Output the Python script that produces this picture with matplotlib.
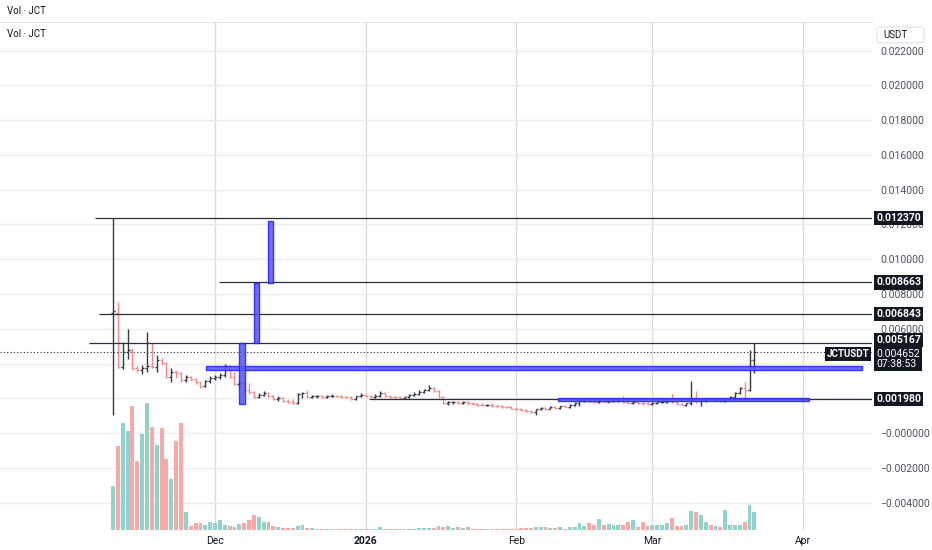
import numpy as np
import pandas as pd
import matplotlib
matplotlib.use('Agg')
import matplotlib.pyplot as plt
import matplotlib.dates as mdates
import matplotlib.transforms as mtransforms
from matplotlib.patches import Rectangle, FancyBboxPatch
from matplotlib.ticker import FuncFormatter

plt.rcParams['font.family'] = ['Roboto', 'DejaVu Sans']

# daily bars JCT/USDT
dates = pd.date_range('2025-11-10', periods=133, freq='D')
opens = [0.00691, 0.00691, 0.00380, 0.00465, 0.00478, 0.00374, 0.00363, 0.00374, 0.00386, 0.00380,
         0.00420, 0.00403, 0.00322, 0.00351, 0.00345, 0.00305, 0.00322, 0.00311, 0.00294, 0.00270,
         0.00299, 0.00317, 0.00322, 0.00334, 0.00386, 0.00322, 0.00282, 0.00288, 0.00247, 0.00236,
         0.00207, 0.00219, 0.00230, 0.00213, 0.00196, 0.00201, 0.00184, 0.00178, 0.00173, 0.00224,
         0.00230, 0.00207, 0.00211, 0.00213, 0.00207, 0.00213, 0.00215, 0.00211, 0.00207, 0.00205,
         0.00196, 0.00213, 0.00219, 0.00213, 0.00207, 0.00215, 0.00230, 0.00213, 0.00207, 0.00205,
         0.00201, 0.00207, 0.00219, 0.00224, 0.00236, 0.00247, 0.00259, 0.00242, 0.00207, 0.00173,
         0.00178, 0.00181, 0.00173, 0.00178, 0.00170, 0.00167, 0.00164, 0.00161, 0.00164, 0.00158,
         0.00155, 0.00150, 0.00147, 0.00141, 0.00138, 0.00132, 0.00127, 0.00121, 0.00138, 0.00144,
         0.00141, 0.00150, 0.00144, 0.00155, 0.00150, 0.00161, 0.00170, 0.00184, 0.00187, 0.00181,
         0.00178, 0.00187, 0.00181, 0.00184, 0.00187, 0.00190, 0.00176, 0.00173, 0.00178, 0.00173,
         0.00170, 0.00167, 0.00173, 0.00178, 0.00181, 0.00184, 0.00178, 0.00167, 0.00164, 0.00170,
         0.00190, 0.00184, 0.00190, 0.00196, 0.00190, 0.00193, 0.00184, 0.00193, 0.00207, 0.00230,
         0.00259, 0.00247, 0.00420]
highs = [0.01237, 0.00754, 0.00524, 0.00598, 0.00489, 0.00386, 0.00391, 0.00581, 0.00517, 0.00449,
         0.00432, 0.00409, 0.00374, 0.00363, 0.00351, 0.00334, 0.00328, 0.00317, 0.00299, 0.00305,
         0.00328, 0.00334, 0.00345, 0.00397, 0.00391, 0.00351, 0.00299, 0.00294, 0.00288, 0.00242,
         0.00230, 0.00242, 0.00236, 0.00219, 0.00213, 0.00207, 0.00196, 0.00196, 0.00230, 0.00236,
         0.00247, 0.00219, 0.00219, 0.00219, 0.00219, 0.00224, 0.00219, 0.00216, 0.00213, 0.00211,
         0.00215, 0.00230, 0.00224, 0.00219, 0.00224, 0.00242, 0.00236, 0.00219, 0.00213, 0.00213,
         0.00213, 0.00224, 0.00236, 0.00247, 0.00253, 0.00276, 0.00265, 0.00247, 0.00213, 0.00184,
         0.00184, 0.00184, 0.00184, 0.00184, 0.00178, 0.00173, 0.00170, 0.00167, 0.00170, 0.00164,
         0.00161, 0.00155, 0.00155, 0.00150, 0.00144, 0.00138, 0.00132, 0.00141, 0.00150, 0.00150,
         0.00155, 0.00155, 0.00158, 0.00164, 0.00167, 0.00176, 0.00190, 0.00193, 0.00190, 0.00187,
         0.00193, 0.00190, 0.00190, 0.00193, 0.00196, 0.00213, 0.00184, 0.00184, 0.00184, 0.00178,
         0.00178, 0.00178, 0.00181, 0.00184, 0.00190, 0.00224, 0.00184, 0.00173, 0.00173, 0.00299,
         0.00242, 0.00196, 0.00201, 0.00201, 0.00196, 0.00201, 0.00196, 0.00213, 0.00236, 0.00265,
         0.00294, 0.00478, 0.005167]
lows = [0.00104, 0.00374, 0.00368, 0.00426, 0.00363, 0.00351, 0.00340, 0.00351, 0.00374, 0.00351,
        0.00391, 0.00317, 0.00294, 0.00317, 0.00294, 0.00294, 0.00299, 0.00282, 0.00259, 0.00265,
        0.00288, 0.00305, 0.00311, 0.00322, 0.00317, 0.00276, 0.00265, 0.00236, 0.00224, 0.00201,
        0.00201, 0.00213, 0.00207, 0.00190, 0.00184, 0.00178, 0.00173, 0.00167, 0.00167, 0.00201,
        0.00201, 0.00201, 0.00201, 0.00201, 0.00201, 0.00207, 0.00207, 0.00201, 0.00201, 0.00190,
        0.00190, 0.00207, 0.00207, 0.00201, 0.00201, 0.00207, 0.00207, 0.00201, 0.00199, 0.00199,
        0.00199, 0.00201, 0.00213, 0.00219, 0.00230, 0.00242, 0.00236, 0.00201, 0.00167, 0.00161,
        0.00167, 0.00167, 0.00167, 0.00161, 0.00161, 0.00155, 0.00155, 0.00155, 0.00150, 0.00150,
        0.00144, 0.00144, 0.00138, 0.00132, 0.00127, 0.00121, 0.00115, 0.00104, 0.00132, 0.00132,
        0.00138, 0.00138, 0.00138, 0.00147, 0.00144, 0.00155, 0.00155, 0.00178, 0.00176, 0.00173,
        0.00173, 0.00176, 0.00176, 0.00178, 0.00181, 0.00173, 0.00167, 0.00167, 0.00167, 0.00161,
        0.00161, 0.00161, 0.00167, 0.00170, 0.00173, 0.00173, 0.00161, 0.00161, 0.00155, 0.00161,
        0.00173, 0.00155, 0.00178, 0.00184, 0.00184, 0.00178, 0.00178, 0.00190, 0.00201, 0.00224,
        0.00201, 0.00242, 0.00345]
closes = [0.00702, 0.00380, 0.00465, 0.00478, 0.00374, 0.00363, 0.00374, 0.00386, 0.00380, 0.00420,
          0.00403, 0.00322, 0.00351, 0.00345, 0.00305, 0.00322, 0.00311, 0.00294, 0.00270, 0.00299,
          0.00317, 0.00322, 0.00334, 0.00386, 0.00322, 0.00282, 0.00288, 0.00247, 0.00236, 0.00207,
          0.00219, 0.00230, 0.00213, 0.00196, 0.00201, 0.00184, 0.00178, 0.00173, 0.00224, 0.00230,
          0.00207, 0.00211, 0.00213, 0.00207, 0.00213, 0.00215, 0.00211, 0.00207, 0.00205, 0.00196,
          0.00213, 0.00219, 0.00213, 0.00207, 0.00215, 0.00230, 0.00213, 0.00207, 0.00205, 0.00201,
          0.00207, 0.00219, 0.00224, 0.00236, 0.00247, 0.00259, 0.00242, 0.00207, 0.00173, 0.00178,
          0.00181, 0.00173, 0.00178, 0.00170, 0.00167, 0.00164, 0.00161, 0.00164, 0.00158, 0.00155,
          0.00150, 0.00147, 0.00141, 0.00138, 0.00132, 0.00127, 0.00121, 0.00138, 0.00144, 0.00141,
          0.00150, 0.00144, 0.00155, 0.00150, 0.00161, 0.00170, 0.00184, 0.00187, 0.00181, 0.00178,
          0.00187, 0.00181, 0.00184, 0.00187, 0.00190, 0.00176, 0.00173, 0.00178, 0.00173, 0.00170,
          0.00167, 0.00173, 0.00178, 0.00181, 0.00184, 0.00178, 0.00167, 0.00164, 0.00170, 0.00190,
          0.00184, 0.00190, 0.00196, 0.00190, 0.00193, 0.00184, 0.00193, 0.00207, 0.00230, 0.00259,
          0.00247, 0.00420, 0.004652]
volume = [44, 84, 107, 99, 124, 69, 96, 127, 103, 85,
          102, 71, 51, 89, 107, 18, 4, 7, 7, 5,
          8, 7, 10, 5, 4, 3, 6, 7, 10, 15,
          13, 8, 8, 4, 3, 2, 2, 2, 4, 5,
          2, 2, 1.5, 1.5, 1, 1, 1.5, 1, 1, 1.5,
          1.5, 1, 1, 1.5, 1.5, 3, 1.5, 1, 1, 1,
          1, 1.5, 1.5, 2, 2, 2, 2, 4, 3.5, 4,
          2, 3, 2.5, 3, 1.5, 1, 1, 1, 1, 1,
          1.5, 1.5, 1.5, 1.5, 2, 2, 2.5, 3, 3.5, 3,
          2, 2, 3, 1.5, 3, 3,
          7, 4, 7, 5, 11, 5, 6, 5, 5, 5,
          8, 10, 3, 8, 4, 5, 5, 5, 7, 12,
          4, 4, 5, 19, 18, 15, 8, 5, 4, 3,
          20, 5, 5, 5, 8, 25, 18]

# horizontal levels
level_prices = [0.01237, 0.008663, 0.006843, 0.005167, 0.00198]
level_labels = ['0.012370', '0.008663', '0.006843', '0.005167', '0.001980']
level_starts = ['2025-11-06 07:00', '2025-12-01 22:00', '2025-11-07 02:00',
                '2025-11-05 02:00', '2026-01-01 17:00']

# blue boxes
box_starts = ['2025-11-29 02:00', '2025-12-06', '2025-12-09', '2025-12-12', '2026-02-09 14:00']
box_ends = ['2026-04-13 05:00', '2025-12-07 02:00', '2025-12-10', '2025-12-13', '2026-04-02 06:00']
box_lows = [0.00364, 0.00165, 0.00516, 0.00865, 0.00186]
box_highs = [0.00387, 0.00516, 0.00865, 0.01222, 0.00200]

last_price = 0.004652
last_label = '0.004652'
countdown = '07:38:53'

price_ticks = np.arange(-0.004, 0.0221, 0.002)
hidden_ticks = [0.002, 0.004]
month_ticks = ['2025-12-01', '2026-01-01', '2026-02-01', '2026-03-01', '2026-04-01']
month_labels = ['Dec', '2026', 'Feb', 'Mar', 'Apr']

up_col = '#363a45'
down_col = '#f28b89'
vol_up = '#92d2cc'
vol_down = '#f7a9a7'


def price_fmt(v, pos):
    # labels under the 0.004652 / 0.001980 tags are not shown
    if any(abs(v - h) < 1e-7 for h in hidden_ticks):
        return ''
    return ('\u2212' if v < 1e-9 else '') + f'{abs(v):.6f}'


fig = plt.figure(figsize=(9.32, 5.5), dpi=100)
ax = fig.add_axes([0, 20 / 550, 872 / 932, 508 / 550])
axv = ax.twinx()

d = mdates.date2num(dates)
o = np.array(opens)
c = np.array(closes)
up = c >= o
cols = np.where(up, up_col, down_col)

ax.set_xlim(d[0] - 23.25, d[0] + 156.2)
ax.set_ylim(-0.00558, 0.02365)

# grid
ax.set_axisbelow(True)
ax.set_yticks(price_ticks)
ax.set_xticks(mdates.date2num(pd.to_datetime(month_ticks)))
ax.set_xticklabels(month_labels)
ax.grid(axis='y', color='#ececee', lw=1)
ax.grid(axis='x', color='#dcdcdf', lw=1)
ax.yaxis.tick_right()
ax.yaxis.set_major_formatter(FuncFormatter(price_fmt))
ax.tick_params(axis='y', length=0, pad=6, labelsize=7.5, labelcolor='#50535e')
ax.tick_params(axis='x', length=0, pad=4, labelsize=7.5, labelcolor='#131722')
ax.get_xticklabels()[1].set_fontweight('bold')
for s in ['left', 'right', 'bottom']:
    ax.spines[s].set_visible(False)
ax.spines['top'].set_color('#e0e3eb')

# volume overlay
axv.set_ylim(0, 508)
axv.bar(d, volume, width=0.8, color=np.where(up, vol_up, vol_down), zorder=1)
axv.axis('off')

# OHLC bars
ax.vlines(d, lows, highs, colors=cols, lw=1, zorder=3)
ax.hlines(o, d - 0.4, d, colors=cols, lw=1, zorder=3)
ax.hlines(c, d, d + 0.4, colors=cols, lw=1, zorder=3)

# level rays
x_end = ax.get_xlim()[1]
for price, start in zip(level_prices, level_starts):
    ax.hlines(price, mdates.date2num(pd.Timestamp(start)), x_end, colors='#2a2e39', lw=0.9, zorder=3)

# last price dotted line
ax.axhline(last_price, color='#2a2e39', lw=0.8, ls=(0, (1, 2)), zorder=3)

# blue boxes
for s, e, lo, hi in zip(box_starts, box_ends, box_lows, box_highs):
    x0 = mdates.date2num(pd.Timestamp(s))
    x1 = mdates.date2num(pd.Timestamp(e))
    ax.add_patch(Rectangle((x0, lo), x1 - x0, hi - lo, facecolor='#5a5aff', edgecolor='#2424ff',
                           lw=1, alpha=0.88, zorder=4))

# price labels on the scale (the 0.005167 tag is pushed up a little, as the app does)
blend = mtransforms.blended_transform_factory(ax.transAxes, ax.transData)
box = dict(boxstyle='square,pad=0.2', fc='#131722', ec='none')
for price, lab in zip(level_prices, level_labels):
    dy = 2.2 if lab == '0.005167' else 0
    ax.annotate(lab, xy=(1, price), xycoords=blend, xytext=(3, dy), textcoords='offset points',
                ha='left', va='center', fontsize=7.5, fontweight='bold', color='white',
                bbox=box, zorder=6, annotation_clip=False)
ax.annotate(last_label + '\n' + countdown, xy=(1, last_price), xycoords=blend, xytext=(3, 2.6),
            textcoords='offset points', ha='left', va='top', fontsize=7.5, color='white',
            linespacing=1.0, bbox=box, zorder=7, annotation_clip=False)
ax.annotate('JCTUSDT', xy=(1, last_price), xycoords=blend, xytext=(-2, -1),
            textcoords='offset points', ha='right', va='center', fontsize=7,
            fontweight='bold', color='white', bbox=box, zorder=7, annotation_clip=False)

# header texts
fig.text(7 / 932, 1 - 11 / 550, 'Vol \u00b7 JCT', fontsize=7, color='#131722', va='center')
fig.text(7 / 932, 1 - 34 / 550, 'Vol \u00b7 JCT', fontsize=7, color='#131722', va='center')
fig.patches.append(FancyBboxPatch((877 / 932, 1 - 43 / 550), 47 / 932, 16 / 550,
                                  boxstyle='round,pad=0,rounding_size=0.004', fc='white',
                                  ec='#e0e3eb', lw=0.8, transform=fig.transFigure))
fig.text(883 / 932, 1 - 35 / 550, 'USDT', fontsize=7, color='#131722', va='center')

fig.savefig('out.png', dpi=100)
